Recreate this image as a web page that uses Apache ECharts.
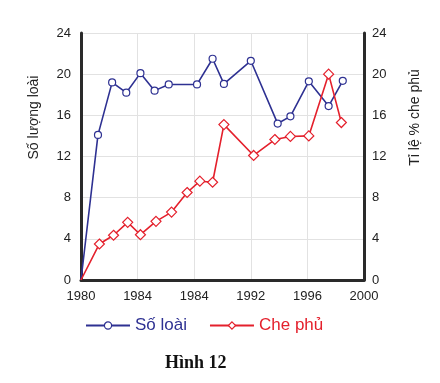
<!DOCTYPE html>
<html><head><meta charset="utf-8">
<script src="https://cdn.jsdelivr.net/npm/echarts@6/dist/echarts.min.js"></script>
<style>html,body{margin:0;padding:0;background:#fff}#c{width:440px;height:383px}</style>
</head><body><div id="c"></div>
<script>
const soLoaiYears = [1980, 1981.2, 1982.2, 1983.2, 1984.2, 1985.2, 1986.2, 1988.2, 1989.3, 1990.1, 1992, 1993.9, 1994.8, 1996.1, 1997.5, 1998.5];
const soLoaiValues = [0, 14.1, 19.2, 18.2, 20.1, 18.4, 19.0, 19.0, 21.5, 19.05, 21.3, 15.2, 15.9, 19.3, 16.9, 19.35];
const chePhuYears = [1980, 1981.3, 1982.3, 1983.3, 1984.2, 1985.3, 1986.4, 1987.5, 1988.4, 1989.3, 1990.1, 1992.2, 1993.7, 1994.8, 1996.1, 1997.5, 1998.4];
const chePhuValues = [0, 3.5, 4.35, 5.6, 4.4, 5.7, 6.6, 8.5, 9.6, 9.5, 15.1, 12.1, 13.65, 13.95, 14.0, 20.0, 15.3];
const xTickValues = [1980, 1984, 1988, 1992, 1996, 2000];
const xTickLabels = ['1980', '1984', '1984', '1992', '1996', '2000'];
const yTicks = ['0', '4', '8', '12', '16', '20', '24'];
const seriesNames = ['Số loài', 'Che phủ'];
const leftAxisName = 'Số lượng loài';
const rightAxisName = 'Tỉ lệ % che phủ';
const captionText = 'Hình 12';

const BLUE = '#2e3192', RED = '#e4202c', AX = '#2a2a2a';
const chart = echarts.init(document.getElementById('c'), null, {renderer: 'canvas'});
const lbl = {fontFamily: 'Arial, "Liberation Sans", sans-serif', fontSize: 13, color: '#222'};
function pts(xs, ys) {
  return xs.map((x, i) => i === 0 ? {value: [x, ys[i]], symbol: 'none'} : [x, ys[i]]);
}
chart.setOption({
  animation: false,
  grid: {left: 81, right: 76, top: 33, bottom: 103},
  xAxis: {
    type: 'value', min: 1980, max: 2000, interval: 4,
    axisLine: {show: true, lineStyle: {color: AX, width: 3}},
    axisTick: {show: false},
    axisLabel: Object.assign({}, lbl, {margin: 10, formatter: v => xTickLabels[xTickValues.indexOf(v)] || ''}),
    splitLine: {show: true, lineStyle: {color: '#e2e2e2', width: 1}}
  },
  yAxis: [
    {type: 'value', min: 0, max: 24, interval: 4, position: 'left',
     name: leftAxisName, nameLocation: 'middle', nameGap: 40, nameRotate: 90,
     nameTextStyle: Object.assign({}, lbl, {fontSize: 14, padding: [0, 0, 0, 78]}),
     axisLine: {show: true, lineStyle: {color: AX, width: 3}}, axisTick: {show: false},
     axisLabel: Object.assign({}, lbl, {margin: 10, formatter: v => yTicks[v / 4]}),
     splitLine: {show: true, lineStyle: {color: '#e2e2e2', width: 1}}},
    {type: 'value', min: 0, max: 24, interval: 4, position: 'right',
     name: rightAxisName, nameLocation: 'middle', nameGap: 44, nameRotate: 90,
     nameTextStyle: Object.assign({}, lbl, {fontSize: 14, padding: [0, 0, 0, 78]}),
     axisLine: {show: true, lineStyle: {color: AX, width: 3}}, axisTick: {show: false},
     axisLabel: Object.assign({}, lbl, {margin: 8, formatter: v => yTicks[v / 4]}),
     splitLine: {show: false}}
  ],
  legend: {
    left: 80, top: 312, itemWidth: 44, itemHeight: 9, itemGap: 22,
    textStyle: {fontFamily: 'Arial, "Liberation Sans", sans-serif', fontSize: 17},
    data: [
      {name: seriesNames[0], textStyle: {color: BLUE}, itemStyle: {color: '#fff', borderColor: BLUE, borderWidth: 1.2}},
      {name: seriesNames[1], textStyle: {color: RED}, itemStyle: {color: '#fff', borderColor: RED, borderWidth: 1.2}}
    ]
  },
  title: {
    text: captionText, left: 160, top: 349,
    textStyle: {fontFamily: '"Liberation Serif", "Times New Roman", serif', fontWeight: 'bold', fontSize: 18, color: '#111'}
  },
  series: [
    {name: seriesNames[0], type: 'line', yAxisIndex: 0,
     data: pts(soLoaiYears, soLoaiValues),
     symbol: 'circle', symbolSize: 7, showAllSymbol: true,
     lineStyle: {color: BLUE, width: 1.6},
     itemStyle: {color: '#fff', borderColor: BLUE, borderWidth: 1.2}},
    {name: seriesNames[1], type: 'line', yAxisIndex: 1,
     data: pts(chePhuYears, chePhuValues),
     symbol: 'diamond', symbolSize: 10, showAllSymbol: true,
     lineStyle: {color: RED, width: 1.6},
     itemStyle: {color: '#fff', borderColor: RED, borderWidth: 1.2}}
  ]
});
</script></body></html>
